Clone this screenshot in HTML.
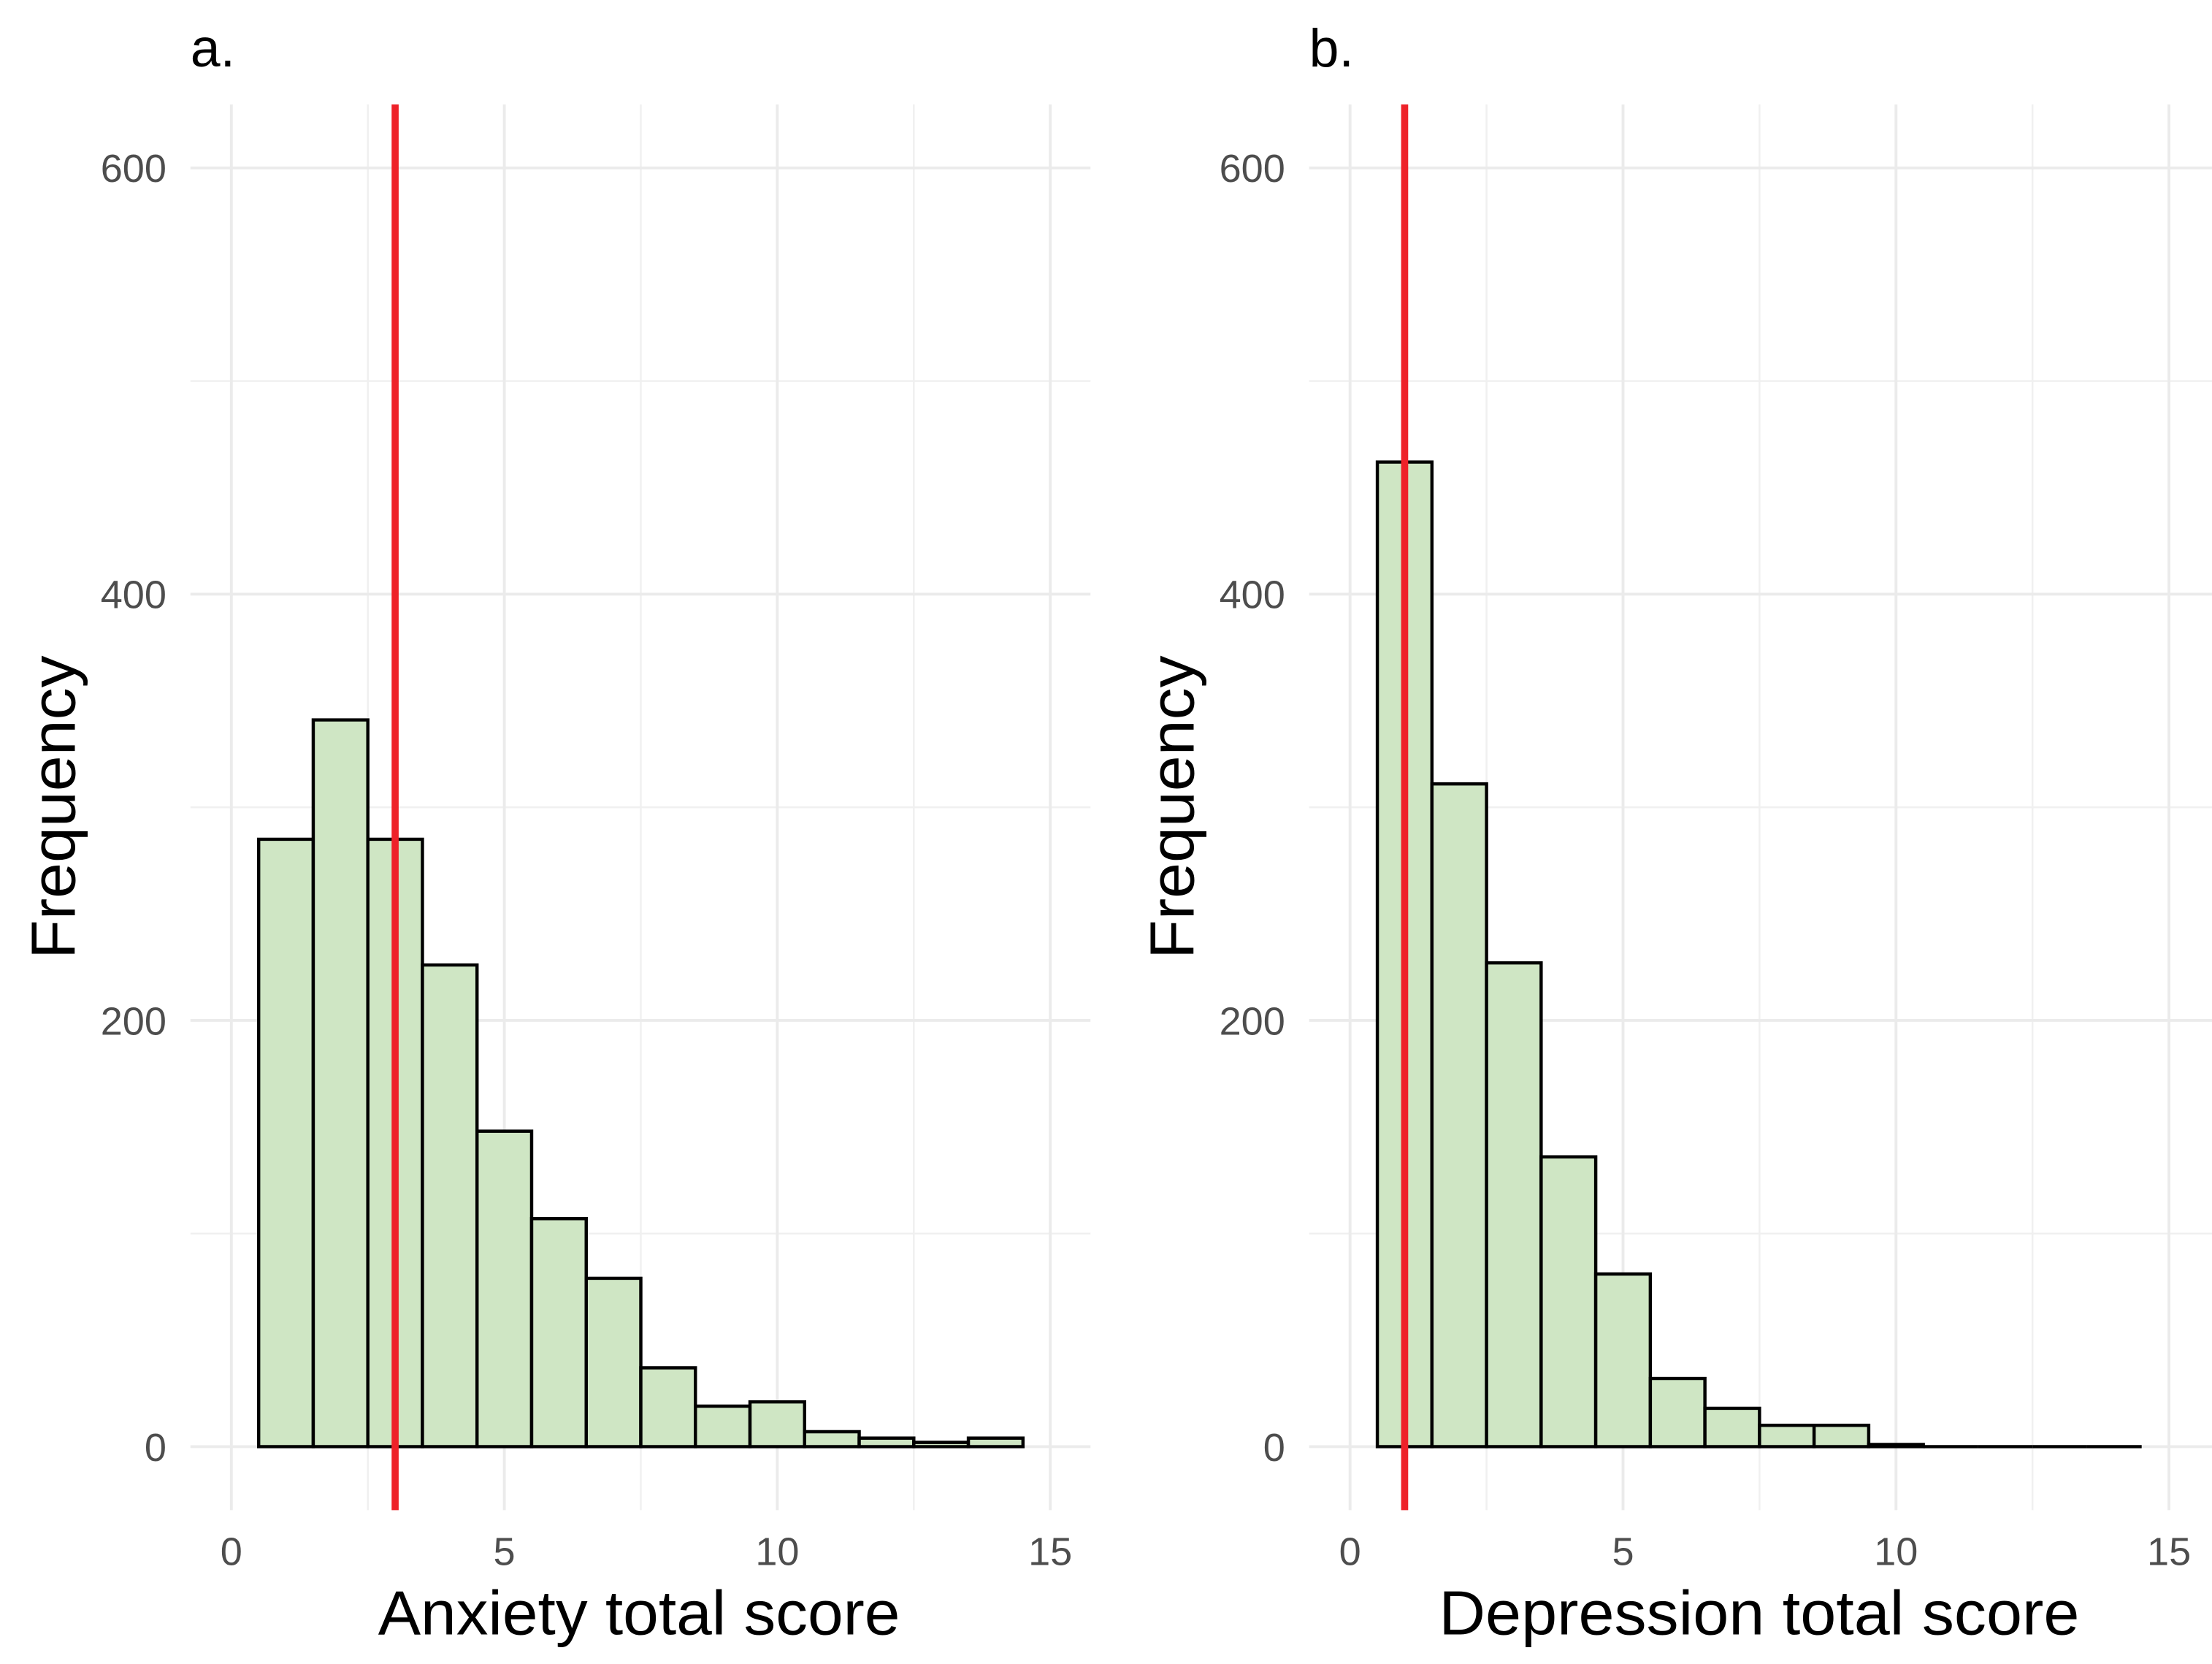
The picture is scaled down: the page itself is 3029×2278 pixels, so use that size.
<!DOCTYPE html>
<html><head><meta charset="utf-8"><style>
html,body{margin:0;padding:0;background:#fff;}
svg{display:block;}
text{font-family:"Liberation Sans",Arial,sans-serif;}
</style></head>
<body>
<svg id="chart" width="3029" height="2278" viewBox="0 0 1568 1179" preserveAspectRatio="none" xmlns="http://www.w3.org/2000/svg">
</svg>
<script>
const bins = [1,2,3,4,5,6,7,8,9,10,11,12,13,14];
const anxietyCounts = [285,341,285,226,148,107,79,37,19,21,7,4,2,4];
const depressionCounts = [462,311,227,136,81,32,18,10,10,1,0,0,0,0];
const anxietyCutoff = [3];
const depressionCutoff = [1];
const xTicks = [0,5,10,15];
const xTickLabels = ["0","5","10","15"];
const yTicks = [0,200,400,600];
const yTickLabels = ["0","200","400","600"];

const NS = "http://www.w3.org/2000/svg";
const svgRoot = document.getElementById('chart');
function mk(tag, attrs, parent){
  const e = document.createElementNS(NS, tag);
  for (const k in attrs) e.setAttribute(k, attrs[k]);
  (parent||svgRoot).appendChild(e);
  return e;
}
const y0 = 1025, yPer = 302/200;
function yScale(v){ return y0 - v*yPer; }
const plotTop = 74, plotBottom = 1070;

function panel(opts){
  const g = mk('g', {});
  
  
  const xs = v => opts.x0 + v*opts.xu;
  [100,300,500].forEach(v=>{
    const l = mk('line',{x1:opts.left,x2:opts.right,y1:yScale(v),y2:yScale(v),stroke:'#f0f0f0','stroke-width':1.3},g);
    
    
  });
  [2.5,7.5,12.5].forEach(v=>{
    const l = mk('line',{x1:xs(v),x2:xs(v),y1:plotTop,y2:plotBottom,stroke:'#f0f0f0','stroke-width':1.3},g);
    
    
  });
  yTicks.forEach((v,i)=>{
    const l = mk('line',{x1:opts.left,x2:opts.right,y1:yScale(v),y2:yScale(v),stroke:'#ebebeb','stroke-width':2},g);
    
    
    const t = mk('text',{x:opts.left-17,y:yScale(v)+10,'text-anchor':'end','font-size':28,fill:'#4d4d4d'},g);
    t.textContent = yTickLabels[i];
    
    
  });
  xTicks.forEach((v,i)=>{
    const l = mk('line',{x1:xs(v),x2:xs(v),y1:plotTop,y2:plotBottom,stroke:'#ebebeb','stroke-width':2},g);
    
    
    const t = mk('text',{x:xs(v),y:1109,'text-anchor':'middle','font-size':28,fill:'#4d4d4d'},g);
    t.textContent = xTickLabels[i];
    
    
  });
  opts.counts.forEach((c,i)=>{
    const b = bins[i];
    const x1 = xs(b-0.5), x2 = xs(b+0.5), yt = yScale(c);
    const r = mk('path',{d:`M${x1},${y0} L${x1},${yt} L${x2},${yt} L${x2},${y0} Z`,fill:'#cfe6c4',stroke:'#000','stroke-width':2.3,'stroke-linejoin':'miter'},g);
    
    
  });
  const red = mk('line',{x1:xs(opts.cut[0]),x2:xs(opts.cut[0]),y1:plotTop,y2:plotBottom,stroke:'#ee2229','stroke-width':5},g);
  
  
  const tl = mk('text',{x:opts.left,y:47,'font-size':38,fill:'#000'},g);
  tl.textContent = opts.tag;
  
  
  const xt = mk('text',{x:opts.xtx,y:1158,'font-size':44,fill:'#000',textLength:opts.xtl,lengthAdjust:'spacingAndGlyphs'},g);
  xt.textContent = opts.xtitle;
  
  
  const yt = mk('text',{x:0,y:0,'font-size':44,fill:'#000','text-anchor':'middle',textLength:215,lengthAdjust:'spacingAndGlyphs',transform:`translate(${opts.ytx},572) rotate(-90)`},g);
  yt.textContent = 'Frequency';
  
  
}
panel({name:'panel-a-anxiety',x0:164,xu:38.7,left:135,right:773,counts:anxietyCounts,cut:anxietyCutoff,tag:'a.',xtitle:'Anxiety total score',xtx:268,xtl:370,ytx:53});
panel({name:'panel-b-depression',x0:957,xu:38.7,left:928,right:1568,counts:depressionCounts,cut:depressionCutoff,tag:'b.',xtitle:'Depression total score',xtx:1020,xtl:454,ytx:846});
</script>
</body></html>
